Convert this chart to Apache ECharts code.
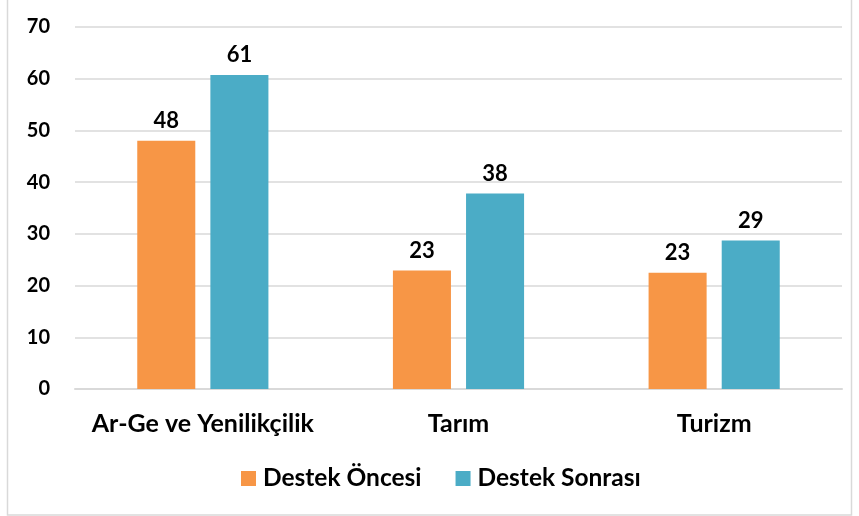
<!DOCTYPE html>
<html><head><meta charset="utf-8">
<script src="https://cdn.jsdelivr.net/npm/echarts@6/dist/echarts.min.js"></script>
<style>html,body{margin:0;padding:0;background:#fff}#c{width:859px;height:516px}</style>
</head><body><div id="c"></div>
<script>
const categories = ["Ar-Ge ve Yenilikçilik", "Tarım", "Turizm"];
const seriesNames = ["Destek Öncesi", "Destek Sonrası"];
const destekOncesi = [48, 22.9, 22.5];
const destekSonrasi = [60.7, 37.8, 28.7];
const dataLabelsOncesi = ["48", "23", "23"];
const dataLabelsSonrasi = ["61", "38", "29"];

const FONT = "Lato";
const chart = echarts.init(document.getElementById('c'), null, {renderer: 'canvas'});
function lbl(arr){ return {show:true, position:'top', distance:9, color:'#000', fontFamily:FONT, fontWeight:'bold', fontSize:22, formatter:p=>arr[p.dataIndex]}; }
chart.setOption({
  animation:false,
  graphic:[{type:'rect', shape:{x:7.5, y:-2, width:844, height:517}, style:{fill:'none', stroke:'#D9D9D9', lineWidth:1.5}, silent:true}],
  grid:{left:75, right:17, top:27, bottom:127},
  legend:{bottom:20, left:236, itemWidth:15, itemHeight:15, itemGap:34, icon:'rect',
    textStyle:{fontFamily:FONT, fontWeight:'bold', fontSize:24.5, color:'#000', padding:[0,0,0,2]}, data:seriesNames},
  xAxis:{type:'category', data:categories,
    axisLine:{lineStyle:{color:'#D9D9D9', width:2}}, axisTick:{show:false},
    axisLabel:{interval:0, margin:22, color:'#000', fontFamily:FONT, fontWeight:'bold', fontSize:25}},
  yAxis:{type:'value', min:0, max:70, interval:10,
    axisLine:{show:false}, axisTick:{show:false},
    splitLine:{lineStyle:{color:'#D9D9D9', width:1.5}},
    axisLabel:{margin:25, color:'#000', fontFamily:FONT, fontWeight:'bold', fontSize:20}},
  series:[
    {name:seriesNames[0], type:'bar', data:destekOncesi, itemStyle:{color:'#F79646'}, barWidth:'22.7%', barGap:'26%', label:lbl(dataLabelsOncesi)},
    {name:seriesNames[1], type:'bar', data:destekSonrasi, itemStyle:{color:'#4BACC6'}, barWidth:'22.7%', barGap:'26%', label:lbl(dataLabelsSonrasi)}
  ]
});
</script></body></html>
